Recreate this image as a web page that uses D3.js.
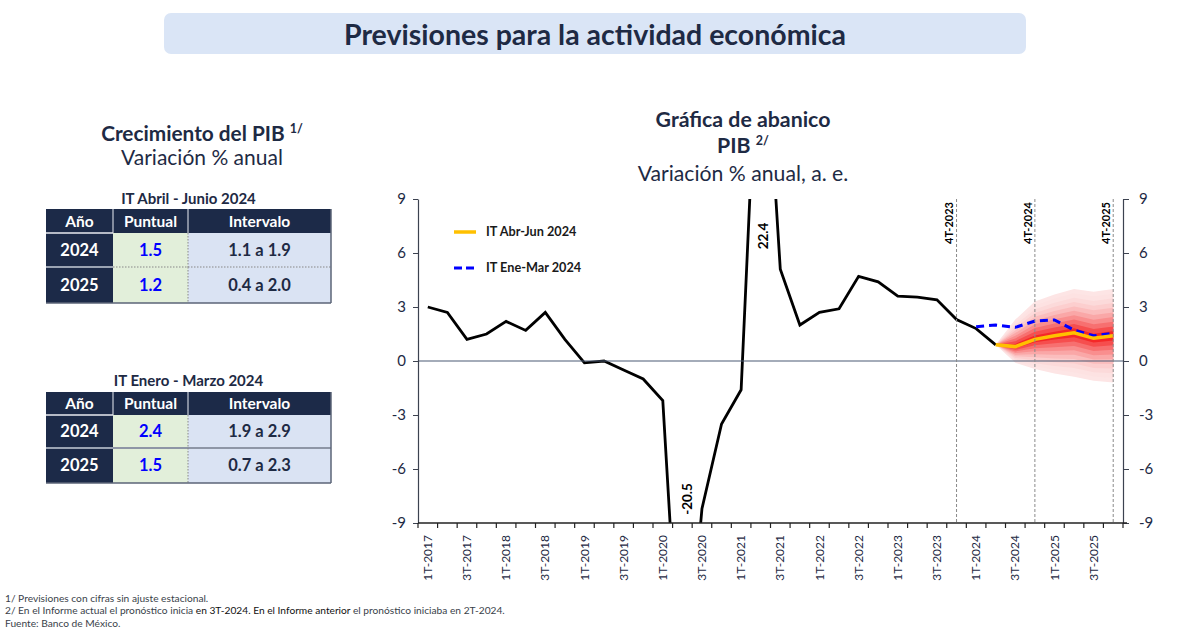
<!DOCTYPE html>
<html><head><meta charset="utf-8">
<script src="https://cdn.jsdelivr.net/npm/d3@7"></script>
<style>
body{margin:0;background:#fff}
svg{display:block}
text{font-family:Lato,"Noto Sans",sans-serif}
</style>
</head><body>
<svg id="c" width="1187" height="633"></svg>
<script>
// ---------------- DATA ----------------
const quarters = [
 "1T-2017","2T-2017","3T-2017","4T-2017",
 "1T-2018","2T-2018","3T-2018","4T-2018",
 "1T-2019","2T-2019","3T-2019","4T-2019",
 "1T-2020","2T-2020","3T-2020","4T-2020",
 "1T-2021","2T-2021","3T-2021","4T-2021",
 "1T-2022","2T-2022","3T-2022","4T-2022",
 "1T-2023","2T-2023","3T-2023","4T-2023",
 "1T-2024","2T-2024","3T-2024","4T-2024",
 "1T-2025","2T-2025","3T-2025","4T-2025"
];
// observed GDP, 1T-2017 .. 2T-2024
const observed = [3.0,2.7,1.2,1.5, 2.2,1.7,2.7,1.2, -0.1,0.0,-0.5,-1.0,
  -2.2,-20.5,-8.2,-3.5, -1.6,22.4,5.1,2.0, 2.7,2.9,4.7,4.4,
  3.6,3.55,3.4,2.3, 1.8,0.9];
// current forecast (IT Abr-Jun 2024), 2T-2024 .. 4T-2025
const forecastQuarters = ["2T-2024","3T-2024","4T-2024","1T-2025","2T-2025","3T-2025","4T-2025"];
const forecastCurrent = [0.9,0.8,1.2,1.4,1.57,1.26,1.4];
const fanUpper = [0.9,2.3,3.3,3.7,4.0,3.85,4.0];
const fanLower = [0.9,-0.1,-0.45,-0.7,-0.87,-1.1,-1.2];
// previous forecast (IT Ene-Mar 2024), 1T-2024 .. 4T-2025
const previousQuarters = ["1T-2024","2T-2024","3T-2024","4T-2024","1T-2025","2T-2025","3T-2025","4T-2025"];
const forecastPrevious = [1.9,2.0,1.87,2.22,2.28,1.72,1.4,1.54];
const yTicks = [-9,-6,-3,0,3,6,9];
const xLabelQuarters = quarters.filter(q => q.startsWith("1T") || q.startsWith("3T"));
const markerQuarters = ["4T-2023","4T-2024","4T-2025"];
const outlierQuarters = ["2T-2020","2T-2021"];
const legendLabels = ["IT Abr-Jun 2024","IT Ene-Mar 2024"];
const tableHeaders = ["Año","Puntual","Intervalo"];
const tableCurrentTitle = "IT Abril - Junio 2024";
const tableCurrent = [["2024","1.5","1.1 a 1.9"],["2025","1.2","0.4 a 2.0"]];
const tablePreviousTitle = "IT Enero - Marzo 2024";
const tablePrevious = [["2024","2.4","1.9 a 2.9"],["2025","1.5","0.7 a 2.3"]];

// ---------------- DRAW ----------------
const svg = d3.select("#c");
const NAVY = "#1c2a48", TXT = "#1e2a44";

// title bar
svg.append("rect").attr("x",164).attr("y",13).attr("width",862).attr("height",41)
  .attr("rx",7).attr("fill","#dae5f6");
svg.append("text").attr("x",595).attr("y",45).attr("text-anchor","middle")
  .attr("font-size",28.5).attr("font-weight",700).attr("fill",TXT)
  .text("Previsiones para la actividad económica");

// left heading
const h1 = svg.append("text").attr("x",202).attr("y",141).attr("text-anchor","middle")
  .attr("font-size",20.8).attr("font-weight",700).attr("fill",TXT);
h1.append("tspan").text("Crecimiento del PIB ");
h1.append("tspan").attr("font-size",12.5).attr("dy",-8).text("1/");
svg.append("text").attr("x",202).attr("y",165).attr("text-anchor","middle")
  .attr("font-size",21).attr("fill",TXT).text("Variación % anual");

// tables
function drawTable(title, rows, yTitle, yTop, rowH, solidSep){
  const cols = [46,113,188,331];
  const headH = rowH[0];
  const g = svg.append("g");
  g.append("text").attr("x",(cols[0]+cols[3])/2).attr("y",yTitle).attr("text-anchor","middle")
    .attr("font-size",15).attr("font-weight",700).attr("fill",TXT).text(title);
  g.append("rect").attr("x",cols[0]).attr("y",yTop).attr("width",cols[3]-cols[0]).attr("height",headH).attr("fill",NAVY);
  tableHeaders.forEach((h,i)=>{
    g.append("text").attr("x",(cols[i]+cols[i+1])/2).attr("y",yTop+headH/2).attr("dy","0.36em")
      .attr("text-anchor","middle").attr("font-size",15.5).attr("font-weight",700).attr("fill","#fff").text(h);
  });
  [1,2].forEach(i=>g.append("line").attr("x1",cols[i]).attr("x2",cols[i]).attr("y1",yTop).attr("y2",yTop+headH)
    .attr("stroke","#c9ced8").attr("stroke-width",1.2));
  let yy = yTop+headH;
  rows.forEach((r,ri)=>{
    const h = rowH[ri+1];
    const fills = [NAVY,"#e2efda","#dae3f3"];
    fills.forEach((f,ci)=>g.append("rect").attr("x",cols[ci]).attr("y",yy).attr("width",cols[ci+1]-cols[ci]).attr("height",h).attr("fill",f));
    const colors = ["#fff","#0000ff",TXT];
    r.forEach((v,ci)=>g.append("text").attr("x",(cols[ci]+cols[ci+1])/2).attr("y",yy+h/2).attr("dy","0.36em")
      .attr("text-anchor","middle").attr("font-size",16.5).attr("font-weight",700).attr("fill",colors[ci]).text(v));
    if(ri===0){
      g.append("line").attr("x1",cols[0]).attr("x2",cols[1]).attr("y1",yy).attr("y2",yy).attr("stroke","#e8ebf0").attr("stroke-width",1.5);
    } else {
      g.append("line").attr("x1",cols[0]).attr("x2",cols[1]).attr("y1",yy).attr("y2",yy).attr("stroke","#9aa3b3").attr("stroke-width",2);
      g.append("line").attr("x1",cols[1]).attr("x2",cols[3]).attr("y1",yy).attr("y2",yy)
        .attr("stroke",solidSep?"#8e96a6":"#888").attr("stroke-width",solidSep?2:1.2).attr("stroke-dasharray",solidSep?null:"1.5,1.5");
    }
    g.append("line").attr("x1",cols[2]).attr("x2",cols[2]).attr("y1",yy).attr("y2",yy+h)
      .attr("stroke","#888").attr("stroke-width",1).attr("stroke-dasharray","1.5,1.5");
    yy += h;
  });
  g.append("line").attr("x1",cols[0]).attr("x2",cols[3]).attr("y1",yy).attr("y2",yy).attr("stroke","#5b6477").attr("stroke-width",1.5);
  g.append("line").attr("x1",cols[3]).attr("x2",cols[3]).attr("y1",yTop).attr("y2",yy).attr("stroke","#5b6477").attr("stroke-width",1.5);
}
drawTable(tableCurrentTitle, tableCurrent, 204, 209, [24,34,36], false);
drawTable(tablePreviousTitle, tablePrevious, 386, 392, [23,33,35], true);

// chart titles
svg.append("text").attr("x",743).attr("y",127).attr("text-anchor","middle")
  .attr("font-size",21.3).attr("font-weight",700).attr("fill",TXT).text("Gráfica de abanico");
const t2 = svg.append("text").attr("x",743).attr("y",153).attr("text-anchor","middle")
  .attr("font-size",21.3).attr("font-weight",700).attr("fill",TXT);
t2.append("tspan").text("PIB ");
t2.append("tspan").attr("font-size",12.5).attr("dy",-8).text("2/");
svg.append("text").attr("x",743).attr("y",181).attr("text-anchor","middle")
  .attr("font-size",21.2).attr("fill",TXT).text("Variación % anual, a. e.");

// scales
const L=418, R=1123, T=199, B=523;
const x = d3.scaleBand().domain(quarters).range([L,R]);
const cx = q => x(q) + x.bandwidth()/2;
const y = d3.scaleLinear().domain([-9,9]).range([B,T]);

svg.append("defs").append("clipPath").attr("id","plot").append("rect")
  .attr("x",L).attr("y",T).attr("width",R-L).attr("height",B-T);
const plot = svg.append("g").attr("clip-path","url(#plot)");

// fan bands
const fanData = forecastQuarters.map((q,i)=>({q, c:forecastCurrent[i], hi:fanUpper[i], lo:fanLower[i]}));
const NB = 10;
const shade = d3.interpolateRgb("#fde5e5","#f42828");
for(let b=0;b<NB;b++){
  const f = 1 - b/NB;
  const area = d3.area().x(d=>cx(d.q))
    .y0(d=>y(d.c - f*(d.c-d.lo))).y1(d=>y(d.c + f*(d.hi-d.c)));
  plot.append("path").datum(fanData).attr("d",area).attr("fill",shade(Math.pow(b/(NB-1),1.9)));
}

// zero line
svg.append("line").attr("x1",L).attr("x2",R).attr("y1",y(0)).attr("y2",y(0))
  .attr("stroke","#4a5a74").attr("stroke-width",1.2);

// marker dashed verticals
markerQuarters.forEach(q=>{
  svg.append("line").attr("x1",cx(q)).attr("x2",cx(q)).attr("y1",T).attr("y2",B)
    .attr("stroke","#8a8a8a").attr("stroke-width",1).attr("stroke-dasharray","3,2");
  svg.append("text").attr("transform",`translate(${cx(q)-7},${T+3}) rotate(-90)`)
    .attr("text-anchor","end").attr("dy","0.35em").attr("font-family","DejaVu Sans")
    .attr("font-size",11).attr("font-weight",700).attr("fill","#000").text(q);
});

// observed line
const obsData = observed.map((v,i)=>({q:quarters[i], v}));
const line = d3.line().x(d=>cx(d.q)).y(d=>y(d.v));
plot.append("path").datum(obsData).attr("d",line).attr("fill","none")
  .attr("stroke","#000").attr("stroke-width",2.8).attr("stroke-linejoin","miter");

// previous forecast
const prevData = previousQuarters.map((q,i)=>({q, v:forecastPrevious[i]}));
plot.append("path").datum(prevData).attr("d",line).attr("fill","none")
  .attr("stroke","#0000ff").attr("stroke-width",3).attr("stroke-dasharray","8,5");

// current forecast
const curData = forecastQuarters.map((q,i)=>({q, v:forecastCurrent[i]}));
plot.append("path").datum(curData).attr("d",line).attr("fill","none")
  .attr("stroke","#ffc000").attr("stroke-width",3.5);

// outlier labels
outlierQuarters.forEach((q,k)=>{
  const v = observed[quarters.indexOf(q)];
  const px = cx(q) + (k===0 ? 5 : 2.5);
  const py = k===0 ? 499 : 236;
  svg.append("text").attr("transform",`translate(${px},${py}) rotate(-90)`)
    .attr("text-anchor","middle").attr("dy","0.35em").attr("font-size",13.5).attr("font-weight",700)
    .attr("fill","#000").text(d3.format(".1f")(v).replace("−","-"));
});

// axes
const axL = svg.append("g").attr("transform",`translate(${L},0)`)
  .call(d3.axisLeft(y).tickValues(yTicks).tickSize(5).tickSizeOuter(0).tickPadding(7).tickFormat(d3.format("d")));
const axR = svg.append("g").attr("transform",`translate(${R},0)`)
  .call(d3.axisRight(y).tickValues(yTicks).tickSize(6).tickSizeOuter(0).tickPadding(10).tickFormat(d3.format("d")));
[axL,axR].forEach(a=>{
  a.selectAll("path").attr("stroke","#3c4250").attr("stroke-width",1.2);
  a.selectAll("line").attr("stroke","#3c4250");
  a.selectAll("text").attr("font-family","Lato").attr("font-size",15).attr("fill",TXT).text(d=>String(d).replace("−","-"));
});

// x axis
svg.append("line").attr("x1",L).attr("x2",R+4).attr("y1",B).attr("y2",B).attr("stroke","#222").attr("stroke-width",1.6);
const bounds = quarters.map(q=>x(q)).concat([R]);
svg.append("g").selectAll("line").data(bounds).join("line")
  .attr("x1",d=>d).attr("x2",d=>d).attr("y1",B).attr("y2",B+5).attr("stroke","#222").attr("stroke-width",1.2);
svg.append("g").selectAll("text").data(xLabelQuarters).join("text")
  .attr("transform",d=>`translate(${cx(d)},${B+12}) rotate(-90)`)
  .attr("text-anchor","end").attr("dy","0.35em").attr("font-family","DejaVu Sans")
  .attr("font-size",12).attr("fill","#1e2a44").text(d=>d);

// legend
const lg = svg.append("g");
lg.append("line").attr("x1",454).attr("x2",476).attr("y1",232).attr("y2",232).attr("stroke","#ffc000").attr("stroke-width",3.5);
lg.append("line").attr("x1",454).attr("x2",476).attr("y1",268).attr("y2",268).attr("stroke","#0000ff").attr("stroke-width",3).attr("stroke-dasharray","8,4");
legendLabels.forEach((t,i)=>lg.append("text").attr("x",486).attr("y",232+36*i).attr("dy","0.35em")
  .attr("font-size",12.7).attr("font-weight",700).attr("fill","#1a1a1a").text(t));

// footnotes
const fn = svg.append("g").attr("font-size",10.2).attr("fill","#3a3f4a");
fn.append("text").attr("x",5).attr("y",602).text("1/ Previsiones con cifras sin ajuste estacional.");
const f2 = fn.append("text").attr("x",5).attr("y",614);
f2.append("tspan").text("2/ En el Informe actual el pronóstico inicia ");
f2.append("tspan").attr("fill","#111").text("en 3T-2024. En el Informe anterior");
f2.append("tspan").text(" el pronóstico iniciaba en 2T-2024.");
fn.append("text").attr("x",5).attr("y",627).text("Fuente: Banco de México.");
</script>
</body></html>
